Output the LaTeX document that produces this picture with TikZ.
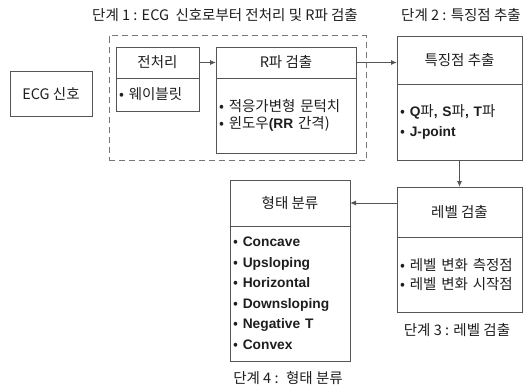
\documentclass[tikz,border=0pt]{standalone}
\usepackage{fontspec}
\setmainfont{Noto Sans CJK KR}
\newfontfamily\latb{Liberation Sans}[Scale=0.95]
\usepackage{tikz}
\usetikzlibrary{arrows.meta, positioning, fit}
\definecolor{linegray}{RGB}{85,85,85}
\definecolor{txt}{RGB}{30,30,30}
\newcommand{\engb}[1]{{\latb\bfseries #1}}

\begin{document}
\begin{tikzpicture}[
        x=1pt, y=-1pt,
        every node/.style={font=\fontsize{14.5}{17}\selectfont, text=txt},
        box/.style={rectangle, draw=linegray, line width=1pt, outer sep=0pt, inner sep=0pt, align=center},
        body/.style={box, align=left, inner xsep=3pt},
        stagebox/.style={rectangle, draw=linegray!80, dash pattern=on 6pt off 4pt, line width=1pt, inner sep=0pt},
        stagelabel/.style={inner sep=0pt},
        arrow/.style={-{Latex[length=6pt,width=5pt]}, line width=1pt, linegray}
    ]
        \useasboundingbox (0,0) rectangle (530,388);

        \node[box, minimum width=82pt, minimum height=45pt] (ecg) at (51,93.5) {ECG 신호};

        % 단계 1
        \node[stagebox, fit={(109,35.5) (366,160.5)}] (stage1) {};
        \node[stagelabel] (lab1) at (225,15) {단계 1 : ECG~ 신호로부터 전처리 및 R파 검출};

        \node[box, minimum width=83pt, minimum height=31pt] (prehd) at (157.5,62.5) {전처리};
        \node[body, below=0pt of prehd, text width=77pt, minimum height=33pt] (prebd) {•~웨이블릿};

        \node[box, minimum width=140pt, minimum height=31pt] (rdethd) at (286,62.5) {R파 검출};
        \node[body, below=0pt of rdethd, text width=134pt, minimum height=75pt,
              font=\fontsize{14.5}{17}\selectfont] (rdetbd) {•~적응가변형~문턱치\\•~윈도우\engb{(RR}~간격)};

        % 단계 2
        \node[stagelabel] (lab2) at (461,15) {단계 2 : 특징점 추출};
        \node[box, minimum width=125pt, minimum height=48pt] (feathd) at (459.5,60) {특징점 추출};
        \node[body, below=0pt of feathd, text width=119pt, minimum height=76pt,
              font=\fontsize{14.5}{20}\selectfont] (featbd) {•~\engb{Q}파\engb{,} \engb{S}파\engb{,} \engb{T}파\\•~\engb{J-point}};

        % 단계 3
        \node[box, minimum width=125pt, minimum height=50pt] (levelhd) at (459.5,212) {레벨 검출};
        \node[body, below=0pt of levelhd, text width=119pt, minimum height=75pt,
              font=\fontsize{14.5}{18.5}\selectfont] (levelbd) {•~레벨~변화~측정점\\•~레벨~변화~시작점};
        \node[stagelabel] (lab3) at (457,330) {단계 3 : 레벨 검출};

        % 단계 4
        \node[box, minimum width=120pt, minimum height=46pt] (shapehd) at (290,203) {형태 분류};
        \node[body, below=0pt of shapehd, text width=114pt, minimum height=135pt,
              font=\fontsize{14.5}{20.5}\selectfont] (shapebd) {•~\engb{Concave}\\•~\engb{Upsloping}\\•~\engb{Horizontal}\\•~\engb{Downsloping}\\•~\engb{Negative T}\\•~\engb{Convex}};
        \node[stagelabel] (lab4) at (288,378) {단계 4 :~ 형태 분류};

        \draw[arrow] (prehd) -- (rdethd);
        \draw[arrow] (rdethd.east) -- (rdethd.east -| feathd.west);
        \draw[arrow] (featbd) -- (levelhd);
        \draw[arrow] (shapehd.east -| levelhd.west) -- (shapehd.east);
    \end{tikzpicture}
\end{document}
